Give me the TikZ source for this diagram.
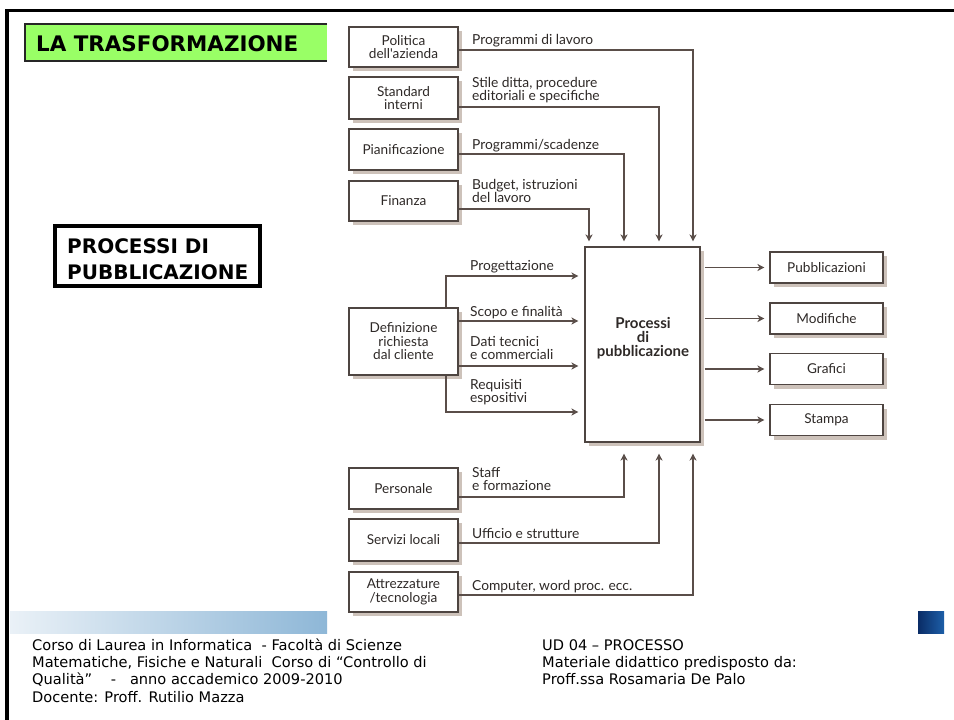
\documentclass[tikz,border=0pt]{standalone}
\usepackage{fontspec}
\setmainfont{DejaVu Sans}
\newfontfamily\gill{Lato}
\usetikzlibrary{arrows.meta,shadows}

\definecolor{titlegreen}{HTML}{99FF66}
\definecolor{boxline}{HTML}{4E4541}
\definecolor{lineclr}{HTML}{5A4E49}
\definecolor{ink}{HTML}{2E2927}
\definecolor{shade}{HTML}{CDC2BA}
\definecolor{barL}{HTML}{EAF1F7}
\definecolor{barR}{HTML}{8EB7D7}
\definecolor{navyL}{HTML}{0A2C66}
\definecolor{navyR}{HTML}{1D5FA8}

\tikzset{
  lbox/.style={draw=boxline, line width=1.1pt, fill=white, inner sep=0pt,
    minimum width=109pt, align=center, text=ink,
    font=\gill\fontsize{13.6}{13.5}\selectfont,
    drop shadow={shadow xshift=4pt, shadow yshift=-4pt, fill=shade, opacity=1}},
  obox/.style={lbox, minimum width=113pt, minimum height=31pt},
  % base anchor of a multi-line label sits on its last line
  lbl/.style={anchor=base west, inner sep=0pt, align=left, text=ink,
    font=\gill\fontsize{13.8}{13}\selectfont},
  conn/.style={draw=lineclr, line width=1.1pt,
    -{Stealth[length=7pt,width=7pt,inset=2pt]}},
  foot/.style={anchor=base west, inner sep=0pt, text=black,
    font=\fontsize{14.6}{16}\selectfont},
  heading/.style={anchor=base west, inner sep=0pt, text=black,
    font=\bfseries\fontsize{20}{22}\selectfont}
}

\begin{document}
\begin{tikzpicture}[x=1pt,y=-1pt]
\useasboundingbox (0,0) rectangle (954,720);
\fill[white] (0,0) rectangle (954,720);

% slide frame
\draw[line width=3pt] (5,10.5) -- (954,10.5);
\draw[line width=3.5pt] (7,10) -- (7,720);

% title band
\fill[titlegreen] (25,24) rectangle (327,61);
\draw[line width=1.2pt, black!85] (327,24) -- (25,24) -- (25,61) -- (327,61);
\node[heading, font=\bfseries\fontsize{21.4}{22}\selectfont] (title) at (36,51) {LA TRASFORMAZIONE};

% framed subject
\draw[line width=3.5pt] (55,226) rectangle (260,286);
\node[heading] (sub1) at (67,253) {PROCESSI DI};
\node[heading] (sub2) at (67,279) {PUBBLICAZIONE};

% footer bars
\shade[left color=barL, right color=barR] (10,611) rectangle (327,633);
\shade[left color=navyL, right color=navyR] (918,611) rectangle (944,633);

% footer text
\node[foot] (f1) at (32,650) {Corso di Laurea in Informatica\ \ - Facoltà di Scienze};
\node[foot] (f2) at (32,667) {Matematiche, Fisiche e Naturali\ \ Corso di “Controllo di};
\node[foot] (f3) at (32,684) {Qualità”\ \ \ \ -\ \ \ anno accademico 2009-2010};
\node[foot] (f4) at (32,702) {Docente: Proff. Rutilio Mazza};
\node[foot] (g1) at (542,650) {UD 04 – PROCESSO};
\node[foot] (g2) at (542,667) {Materiale didattico predisposto da:};
\node[foot] (g3) at (542,684) {Proff.ssa Rosamaria De Palo};

% input boxes
\node[lbox, minimum height=40pt] (pol) at (403.5,47) {Politica\\dell'azienda};
\node[lbox, minimum height=42pt] (std) at (403.5,98) {Standard\\interni};
\node[lbox, minimum height=41pt] (pia) at (403.5,149.5) {Pianificazione};
\node[lbox, minimum height=40pt] (fin) at (403.5,201) {Finanza};
\node[lbox, minimum height=67pt] (def) at (403.5,341.5) {Definizione\\richiesta\\dal cliente};
\node[lbox, minimum height=41pt] (per) at (403.5,488.5) {Personale};
\node[lbox, minimum height=42pt] (ser) at (403.5,540) {Servizi locali};
\node[lbox, minimum height=40pt] (att) at (403.5,592) {Attrezzature\\/tecnologia};

% central process
\node[lbox, minimum width=115pt, minimum height=195pt] (proc) at (642.5,344.5) {};
\node[inner sep=0pt, align=center, text=ink,
  font=\gill\bfseries\fontsize{15}{14}\selectfont] (ptxt) at (643,338) {Processi\\di\\pubblicazione};

% outputs
\node[obox] (pub) at (826.5,267.5) {Pubblicazioni};
\node[obox] (mod) at (826.5,318.5) {Modifiche};
\node[obox] (gra) at (826.5,369) {Grafici};
\node[obox] (sta) at (826.5,420) {Stampa};

% controls from above
\draw[conn, shorten >=5pt] (pol.east |- 0,50) -| (proc.north -| 693,0);
\draw[conn, shorten >=5pt] (std.east |- 0,107) -| (proc.north -| 659,0);
\draw[conn, shorten >=5pt] (pia.east |- 0,154) -| (proc.north -| 624,0);
\draw[conn, shorten >=5pt] (fin.east |- 0,209) -| (proc.north -| 589,0);

% client requirements
\draw[conn, shorten >=6pt] (def.north -| 446,0) |- (proc.west |- 0,276);
\draw[conn, shorten >=6pt] (def.east |- 0,321) -- (proc.west |- 0,321);
\draw[conn, shorten >=6pt] (def.east |- 0,366) -- (proc.west |- 0,366);
\draw[conn, shorten >=6pt] (def.south -| 446,0) |- (proc.west |- 0,412);

% resources from below
\draw[conn, shorten >=11pt] (per.east |- 0,497) -| (proc.south -| 624,0);
\draw[conn, shorten >=11pt] (ser.east |- 0,543) -| (proc.south -| 659,0);
\draw[conn, shorten >=11pt] (att.east |- 0,595) -| (proc.south -| 693,0);

% outputs
\draw[conn, shorten <=4pt, shorten >=5pt] (proc.east |- pub.west) -- (pub.west);
\draw[conn, shorten <=4pt, shorten >=5pt] (proc.east |- mod.west) -- (mod.west);
\draw[conn, shorten <=4pt, shorten >=5pt] (proc.east |- gra.west) -- (gra.west);
\draw[conn, shorten <=4pt, shorten >=5pt] (proc.east |- sta.west) -- (sta.west);

% connector labels
\node[lbl] (tPol) at (472,45) {Programmi di lavoro};
\node[lbl] (tStd) at (472,100) {Stile ditta, procedure\\editoriali e specifiche};
\node[lbl] (tPia) at (472,149) {Programmi/scadenze};
\node[lbl] (tFin) at (472,202) {Budget, istruzioni\\del lavoro};
\node[lbl] (tPro) at (470,270) {Progettazione};
\node[lbl] (tSco) at (470,316) {Scopo e finalità};
\node[lbl] (tDat) at (470,359) {Dati tecnici\\e commerciali};
\node[lbl] (tReq) at (470,402) {Requisiti\\espositivi};
\node[lbl] (tSta) at (472,490) {Staff\\e formazione};
\node[lbl] (tUff) at (472,538) {Ufficio e strutture};
\node[lbl] (tCom) at (472,590) {Computer, word proc. ecc.};
\end{tikzpicture}
\end{document}
